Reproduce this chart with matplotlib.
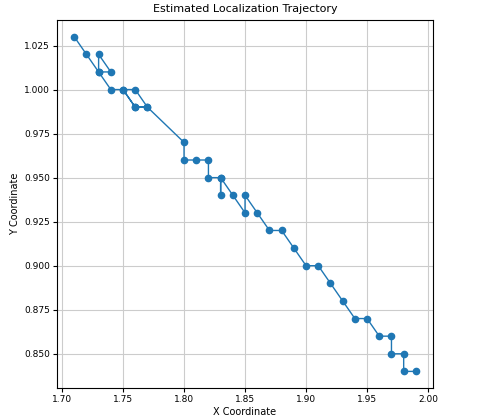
import matplotlib
matplotlib.use("Agg")
import matplotlib.pyplot as plt

x_coords = [1.71, 1.72, 1.73, 1.73, 1.74, 1.73, 1.74, 1.75, 1.76, 1.77, 1.76, 1.75,
            1.76, 1.77, 1.80, 1.80, 1.81, 1.82, 1.82, 1.83, 1.83, 1.83, 1.84, 1.85,
            1.85, 1.86, 1.87, 1.88, 1.89, 1.90, 1.91, 1.92, 1.93, 1.94, 1.95, 1.96,
            1.97, 1.97, 1.98, 1.98, 1.99]
y_coords = [1.03, 1.02, 1.01, 1.02, 1.01, 1.01, 1.00, 1.00, 1.00, 0.99, 0.99, 1.00,
            0.99, 0.99, 0.97, 0.96, 0.96, 0.96, 0.95, 0.95, 0.94, 0.95, 0.94, 0.93,
            0.94, 0.93, 0.92, 0.92, 0.91, 0.90, 0.90, 0.89, 0.88, 0.87, 0.87, 0.86,
            0.86, 0.85, 0.85, 0.84, 0.84]

fig = plt.figure(figsize=(4.8, 4.16), dpi=100)
ax = fig.add_axes([0.119, 0.067, 0.783, 0.885])
ax.plot(x_coords, y_coords, marker='o', markersize=4.5, linewidth=1.0, color='#1f77b4')
ax.set_title("Estimated Localization Trajectory", fontsize=8)
ax.set_xlabel("X Coordinate", fontsize=7, labelpad=2)
ax.set_ylabel("Y Coordinate", fontsize=7, labelpad=3)
ax.tick_params(labelsize=6.5, length=3, pad=2)
ax.grid(True, color='#cccccc', linewidth=0.8)
ax.set_xticks([1.70, 1.75, 1.80, 1.85, 1.90, 1.95, 2.00])
fig.savefig("out.png", dpi=100)
